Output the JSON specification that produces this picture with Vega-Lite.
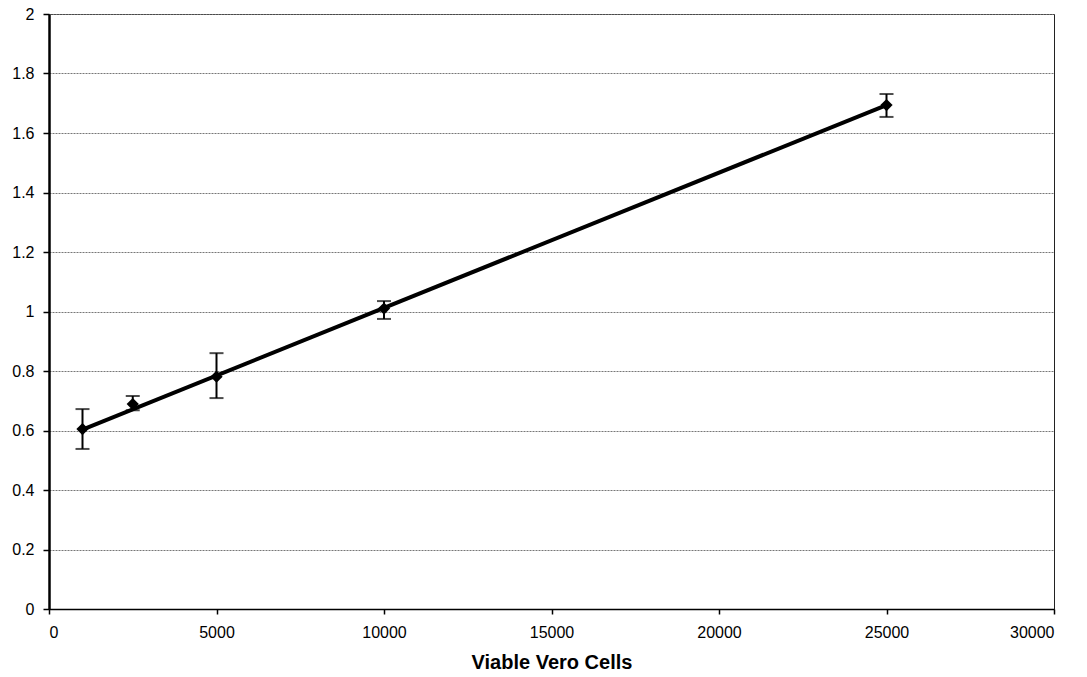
{
  "$schema": "https://vega.github.io/schema/vega-lite/v6.json",
  "width": 1005,
  "height": 595,
  "autosize": {"type": "none"},
  "padding": {"left": 49, "top": 14, "right": 33, "bottom": 68},
  "background": "white",
  "config": {
    "font": "Liberation Sans",
    "view": {"stroke": "#222", "strokeWidth": 1},
    "axis": {"labelFont": "Liberation Sans", "titleFont": "Liberation Sans", "labelColor": "black", "titleColor": "black", "domainColor": "black", "tickColor": "black"}
  },
  "datasets": {
    "points": [
      {"cells": 1000, "od": 0.605, "lo": 0.538, "hi": 0.672},
      {"cells": 2500, "od": 0.689, "lo": 0.668, "hi": 0.716},
      {"cells": 5000, "od": 0.781, "lo": 0.709, "hi": 0.86},
      {"cells": 10000, "od": 1.01, "lo": 0.975, "hi": 1.035},
      {"cells": 25000, "od": 1.694, "lo": 1.654, "hi": 1.731}
    ],
    "fit": [
      {"cells": 1000, "od": 0.603},
      {"cells": 25000, "od": 1.694}
    ]
  },
  "layer": [
    {
      "data": {"name": "fit"},
      "mark": {"type": "line", "color": "black", "strokeWidth": 4},
      "encoding": {
        "x": {"field": "cells", "type": "quantitative", "scale": {"domain": [0, 30000], "nice": false},
          "axis": {"title": "Viable Vero Cells", "titleFontSize": 20, "titleFontWeight": "bold", "titlePadding": 12,
            "values": [0, 5000, 10000, 15000, 20000, 25000, 30000], "format": "d", "labelFontSize": 16, "labelPadding": 10,
            "tickSize": 5, "tickWidth": 1.5, "domainWidth": 1.5, "grid": false}},
        "y": {"field": "od", "type": "quantitative", "scale": {"domain": [0, 2], "nice": false},
          "axis": {"title": null, "values": [0, 0.2, 0.4, 0.6, 0.8, 1, 1.2, 1.4, 1.6, 1.8, 2], "format": ".1~f",
            "labelFontSize": 16, "labelPadding": 9, "tickSize": 6, "tickWidth": 1.5, "domainWidth": 2.5,
            "grid": true, "gridColor": "#777", "gridDash": [2, 1], "gridWidth": 1}}
      }
    },
    {
      "data": {"name": "points"},
      "mark": {"type": "rule", "color": "black", "strokeWidth": 2},
      "encoding": {
        "x": {"field": "cells", "type": "quantitative"},
        "y": {"field": "lo", "type": "quantitative"},
        "y2": {"field": "hi"}
      }
    },
    {
      "data": {"name": "points"},
      "mark": {"type": "tick", "orient": "horizontal", "color": "black", "size": 14, "thickness": 2},
      "encoding": {
        "x": {"field": "cells", "type": "quantitative"},
        "y": {"field": "lo", "type": "quantitative"}
      }
    },
    {
      "data": {"name": "points"},
      "mark": {"type": "tick", "orient": "horizontal", "color": "black", "size": 14, "thickness": 2},
      "encoding": {
        "x": {"field": "cells", "type": "quantitative"},
        "y": {"field": "hi", "type": "quantitative"}
      }
    },
    {
      "data": {"name": "points"},
      "mark": {"type": "point", "shape": "diamond", "filled": true, "color": "black", "size": 150, "opacity": 1},
      "encoding": {
        "x": {"field": "cells", "type": "quantitative"},
        "y": {"field": "od", "type": "quantitative"}
      }
    }
  ]
}
